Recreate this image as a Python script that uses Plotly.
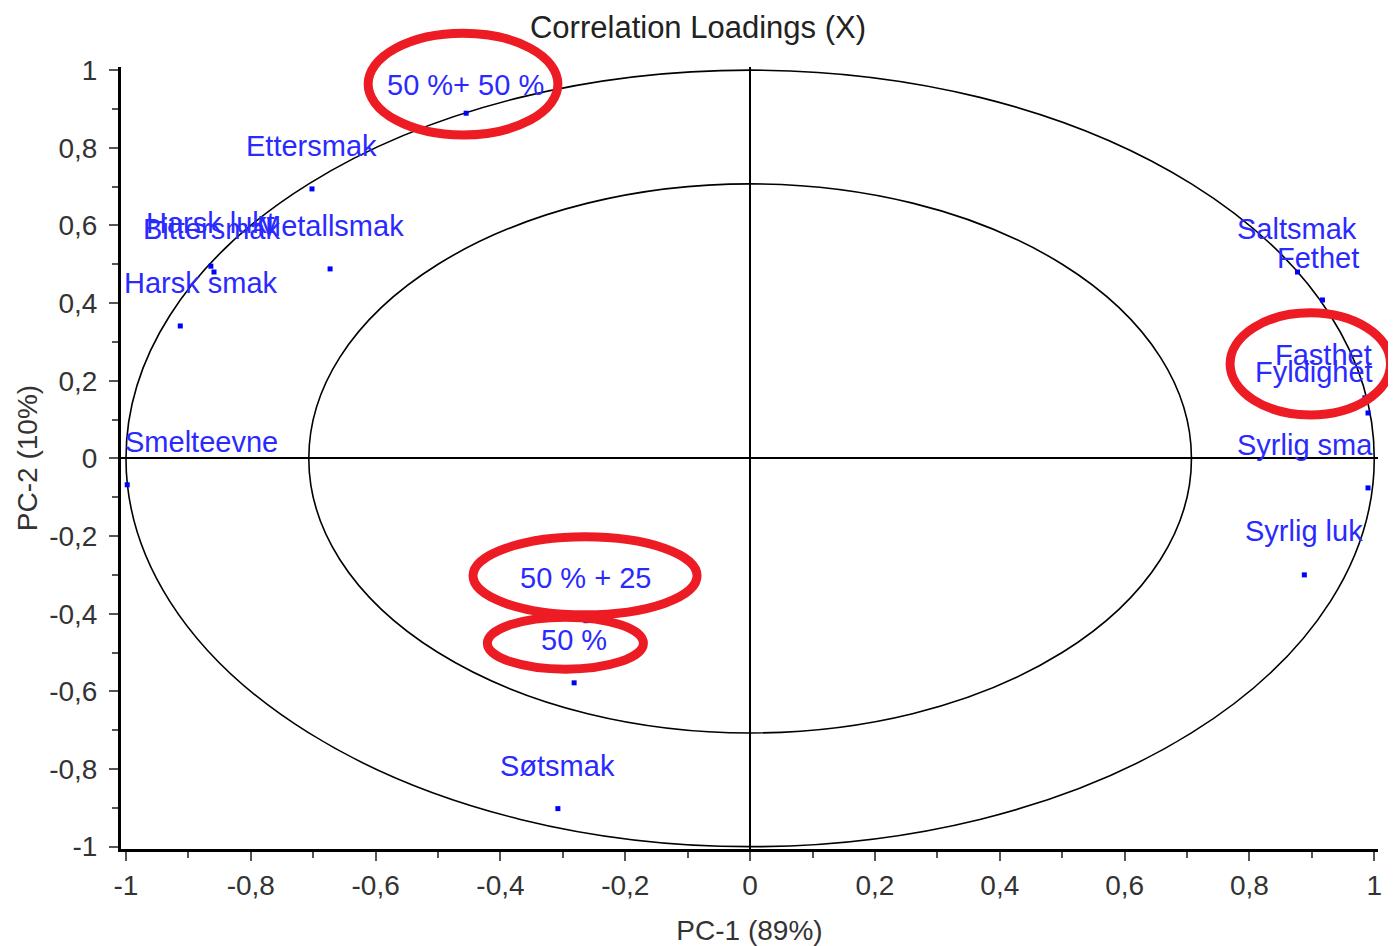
import plotly.graph_objects as go

# ---- data ----
variables = ["50 %+ 50 %", "Ettersmak", "Harsk lukt", "Bittersmak", "Metallsmak",
             "Harsk smak", "Smelteevne", "50 % + 25", "50 %", "Søtsmak",
             "Saltsmak", "Fethet", "Fasthet", "Fyldighet", "Syrlig sma", "Syrlig luk"]
pc1 = [-0.455, -0.702, -0.864, -0.859, -0.673, -0.913, -0.998, -0.263, -0.282, -0.308,
       0.877, 0.917, 0.985, 0.990, 0.990, 0.888]
pc2 = [0.889, 0.694, 0.495, 0.480, 0.488, 0.341, -0.068, -0.418, -0.578, -0.902,
       0.480, 0.408, 0.156, 0.117, -0.076, -0.300]

tick_values = [-1, -0.8, -0.6, -0.4, -0.2, 0, 0.2, 0.4, 0.6, 0.8, 1]
tick_labels = ["-1", "-0,8", "-0,6", "-0,4", "-0,2", "0", "0,2", "0,4", "0,6", "0,8", "1"]

x_title = "PC-1 (89%)"
y_title = "PC-2 (10%)"
chart_title = "Correlation Loadings (X)"
inner_radius = 0.5 ** 0.5

# ---- style ----
PAGE_OFFSET = 8          # default body margin of the html page
FIG_W, FIG_H = 1396 - PAGE_OFFSET, 946 - PAGE_OFFSET
X_RANGE = [-1.008, 1.006]
Y_RANGE = [-1.006, 1.008]
LABEL_COLOR = "#2a2aff"
FONT = "Liberation Sans, Arial, sans-serif"
DEFAULT_SHIFT = (0, 43)
label_shift = {  # pixel nudges of label centres relative to their point
    "50 %+ 50 %": (-1, 28),
    "Bittersmak": (-3, 43),
    "Harsk smak": (21, 43),
    "Smelteevne": (74, 43),
    "Fethet": (-4, 42),
    "Fasthet": (-41, 43),
    "Fyldighet": (-54, 41),
    "Syrlig sma": (-63, 43),
    "Syrlig luk": (0, 44),
}
# red highlight ellipses drawn on the picture (data units: x0, x1, y0, y1)
highlights = [
    (-0.612, -0.308, 0.833, 1.095),
    (0.769, 1.026, 0.112, 0.375),
    (-0.444, -0.085, -0.403, -0.202),
    (-0.421, -0.171, -0.543, -0.409),
]

fig = go.Figure()
fig.add_trace(go.Scatter(
    x=pc1, y=pc2, mode="markers",
    marker=dict(symbol="square", size=5, color="#0000ff"),
    hovertext=variables, showlegend=False,
))

for name, x, y in zip(variables, pc1, pc2):
    dx, dy = label_shift.get(name, DEFAULT_SHIFT)
    fig.add_annotation(x=x, y=y, xref="x", yref="y", text=name, showarrow=False,
                       xanchor="center", yanchor="middle", xshift=dx, yshift=dy,
                       font=dict(family=FONT, size=29, color=LABEL_COLOR))

# correlation circles
for r in (1.0, inner_radius):
    fig.add_shape(type="circle", xref="x", yref="y", x0=-r, x1=r, y0=-r, y1=r,
                  line=dict(color="black", width=1.6), layer="below")

def to_paper_x(v):
    return (v - X_RANGE[0]) / (X_RANGE[1] - X_RANGE[0])

def to_paper_y(v):
    return (v - Y_RANGE[0]) / (Y_RANGE[1] - Y_RANGE[0])

for x0, x1, y0, y1 in highlights:
    fig.add_shape(type="circle", xref="paper", yref="paper",
                  x0=to_paper_x(x0), x1=to_paper_x(x1),
                  y0=to_paper_y(y0), y1=to_paper_y(y1),
                  line=dict(color="#ed1c24", width=9), layer="above")

axis_common = dict(
    showgrid=False, zeroline=True, zerolinecolor="black", zerolinewidth=2,
    showline=True, linecolor="black", linewidth=3, mirror=False,
    ticks="outside", ticklen=9, tickwidth=2, tickcolor="#555555",
    tickmode="array", tickvals=tick_values, ticktext=tick_labels,
    minor=dict(dtick=0.1, tick0=0, ticks="outside", ticklen=6, tickwidth=2,
               tickcolor="#555555"),
    tickfont=dict(family=FONT, size=28, color="#333333"),
    title_font=dict(family=FONT, size=28, color="#333333"),
    automargin=False,
)

fig.update_xaxes(range=X_RANGE, title_text=x_title, title_standoff=21, **axis_common)
fig.update_yaxes(range=Y_RANGE, title_text=y_title, title_standoff=4,
                 ticklabelstandoff=6, **axis_common)

fig.update_layout(
    width=FIG_W, height=FIG_H,
    margin=dict(l=121 - PAGE_OFFSET, r=18, t=67 - PAGE_OFFSET, b=97),
    paper_bgcolor="white", plot_bgcolor="white",
    title=dict(text=chart_title, x=(698 - PAGE_OFFSET) / FIG_W, xref="container",
               xanchor="center", y=1 - (27 - PAGE_OFFSET) / FIG_H, yref="container",
               yanchor="middle",
               font=dict(family=FONT, size=31, color="#222222")),
)

fig.write_html("out.html")
